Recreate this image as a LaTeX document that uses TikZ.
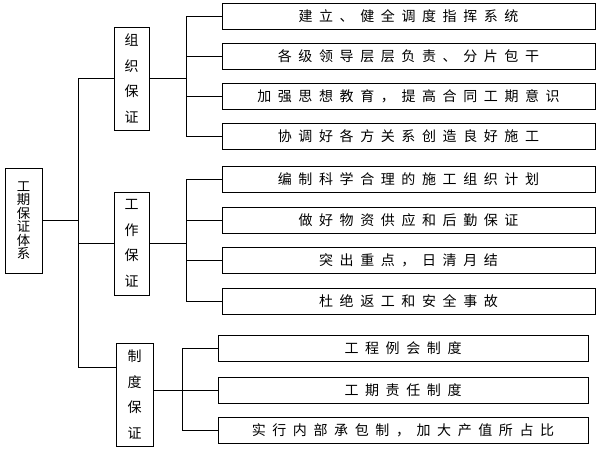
\documentclass[tikz,border=0pt]{standalone}
\usepackage{fontspec}
\newfontfamily\cjk{Noto Sans CJK SC}
\makeatletter
\newlength\lsp \setlength\lsp{6.6pt}
\newcommand\spacedtext[1]{\kern-\lsp\@tfor\@chr:=#1\do{\kern\lsp\@chr}}
\makeatother
\begin{document}
\begin{tikzpicture}[x=1pt,y=-1pt,line width=0.8pt,
  item/.style={draw,inner sep=0pt,minimum height=26pt,font=\cjk\fontsize{14}{14}\selectfont},
  itemA/.style={item,minimum width=373pt},
  itemB/.style={item,minimum width=370pt},
  grp/.style={draw,inner sep=0pt,align=center,minimum height=103pt,font=\cjk\fontsize{14}{25.5}\selectfont},
  rootbox/.style={draw,inner sep=0pt,align=center,minimum width=37pt,minimum height=105pt,font=\cjk\fontsize{13.4}{13.4}\selectfont}]
\useasboundingbox (0,0) rectangle (600,450);
% root
\node[rootbox] (root) at (23.5,220.5) {工\\期\\保\\证\\体\\系};
% groups
\node[grp,minimum width=35pt] (g1) at (131.5,78.5) {组\\织\\保\\证};
\node[grp,minimum width=35pt] (g2) at (131.5,243.5) {工\\作\\保\\证};
\node[grp,minimum width=37pt] (g3) at (134.5,394.5) {制\\度\\保\\证};
% items group 1
\node[itemA] (a1) at (408.5,16) {\spacedtext{建立、健全调度指挥系统}};
\node[itemA] (a2) at (408.5,56) {\spacedtext{各级领导层层负责、分片包干}};
\node[itemA] (a3) at (408.5,96.5) {\spacedtext{加强思想教育，提高合同工期意识}};
\node[itemA] (a4) at (408.5,136) {\spacedtext{协调好各方关系创造良好施工}};
% items group 2
\node[itemA] (c1) at (408.5,179.5) {\spacedtext{编制科学合理的施工组织计划}};
\node[itemA] (c2) at (408.5,220) {\spacedtext{做好物资供应和后勤保证}};
\node[itemA] (c3) at (408.5,260.5) {\spacedtext{突出重点，日清月结}};
\node[itemA] (c4) at (408.5,301) {\spacedtext{杜绝返工和安全事故}};
% items group 3
\node[itemB] (d1) at (403,348) {\spacedtext{工程例会制度}};
\node[itemB] (d2) at (403,390.5) {\spacedtext{工期责任制度}};
\node[itemB] (d3) at (403,430) {\spacedtext{实行内部承包制，加大产值所占比}};
% junction coordinates
\coordinate (s0) at (78,78.5);
\coordinate (s1) at (78,367);
\coordinate (v1) at (186,0);
\coordinate (v2) at (186,0);
\coordinate (v3) at (182,0);
% spine
\draw (root.east) -- (root.east -| s0);
\draw (s0) -- (s1);
\draw (s0) -- (g1.west);
\draw (g2.west -| s0) -- (g2.west);
\draw (s1) -- (s1 -| g3.west);
% group 1 branches
\draw (g1.east) -- (g1.east -| v1);
\draw (a1.west -| v1) -- (a4.west -| v1);
\foreach \n in {a1,a2,a3,a4} \draw (\n.west -| v1) -- (\n.west);
% group 2 branches
\draw (g2.east) -- (g2.east -| v2);
\draw (c1.west -| v2) -- (c4.west -| v2);
\foreach \n in {c1,c2,c3,c4} \draw (\n.west -| v2) -- (\n.west);
% group 3 branches
\draw (d2.west -| g3.east) -- (d2.west);
\draw (d1.west -| v3) -- (d3.west -| v3);
\foreach \n in {d1,d3} \draw (\n.west -| v3) -- (\n.west);
\end{tikzpicture}
\end{document}
